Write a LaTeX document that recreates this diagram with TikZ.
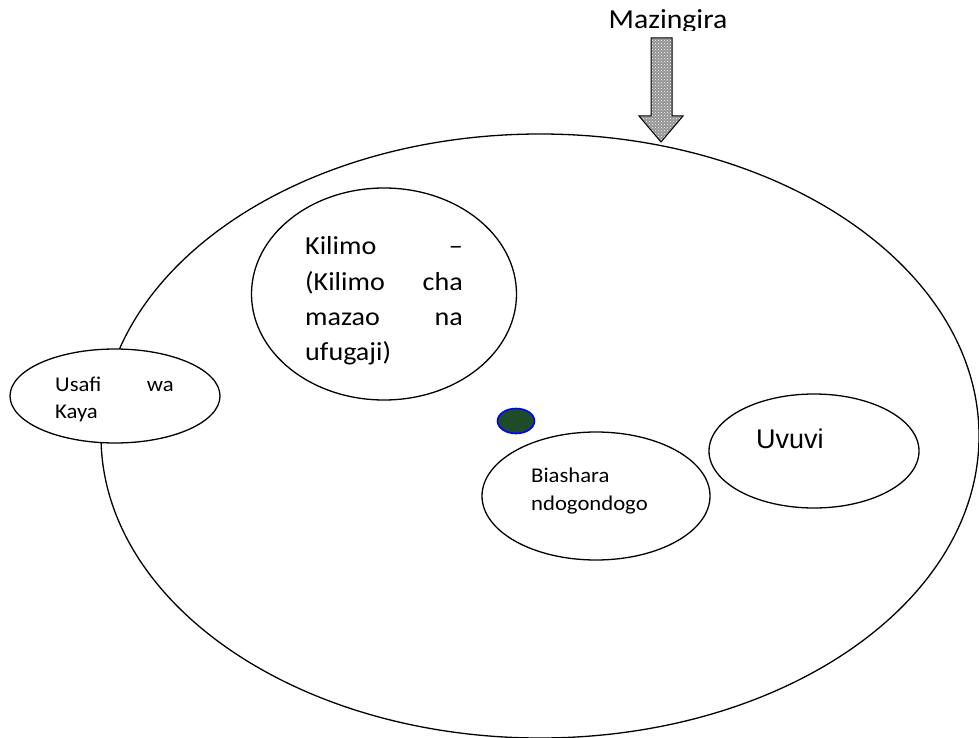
\documentclass[tikz,border=0pt]{standalone}
\usepackage{fontspec}
\setmainfont{Carlito}[FakeStretch=1.08]
\newfontfamily\arialf{Liberation Sans}
\usetikzlibrary{shapes.geometric,patterns}
\definecolor{dotgreen}{RGB}{30,75,40}
\begin{document}
\begin{tikzpicture}[x=1pt,y=-1pt,
  oval/.style={ellipse,draw=black,line width=1.3pt,fill=white,inner sep=0pt},
  lbl/.style={inner sep=0pt}]
\useasboundingbox (0,0) rectangle (979,738);
% big ellipse
\node[oval,minimum width=878pt,minimum height=604pt] (world) at (540,436) {};
% small ellipses
\node[oval,minimum width=265pt,minimum height=212pt] (kilimo) at (384,294) {};
\node[oval,minimum width=210pt,minimum height=94pt] (usafi) at (115,396) {};
\node[oval,minimum width=228pt,minimum height=128pt] (biashara) at (596,496) {};
\node[oval,minimum width=210pt,minimum height=114pt] (uvuvi) at (814,451) {};
\node[ellipse,draw=blue,line width=1.6pt,fill=dotgreen,minimum width=37pt,minimum height=25pt,inner sep=0pt] (dot) at (516,421) {};
% arrow
\coordinate (tip) at (661,142);
\path[fill=gray!85] (651,38) -- (672,38) -- (672,116) -- (683,116) -- (tip) -- (639,116) -- (651,116) -- cycle;
\path[pattern=crosshatch dots,pattern color=white] (651,38) -- (672,38) -- (672,116) -- (683,116) -- (tip) -- (639,116) -- (651,116) -- cycle;
\draw[line width=1pt,line join=miter] (651,38) -- (672,38) -- (672,116) -- (683,116) -- (tip) -- (639,116) -- (651,116) -- cycle;
% title, clipped like a text box
\begin{scope}
\clip (560,0) rectangle (780,31);
\node[lbl,anchor=base,font=\fontsize{27.5}{30}\selectfont] (maz) at (668,29) {Mazingira};
\end{scope}
% Kilimo text
\begin{scope}[every node/.style={lbl,font=\fontsize{26}{30}\selectfont}]
\node[anchor=base west] (k1) at (305,254) {Kilimo};
\node[anchor=base east] (k1r) at (463,254) {–};
\node[anchor=base west] (k2) at (305,290) {(Kilimo};
\node[anchor=base east] (k2r) at (463,290) {cha};
\node[anchor=base west] (k3) at (305,325) {mazao};
\node[anchor=base east] (k3r) at (463,325) {na};
\node[anchor=base west] (k4) at (305,360) {ufugaji)};
\end{scope}
% Usafi text
\begin{scope}[every node/.style={lbl,font=\fontsize{21}{24}\selectfont}]
\node[anchor=base west] (u1) at (55,391) {Usafi};
\node[anchor=base east] (u1r) at (174,391) {wa};
\node[anchor=base west] (u2) at (55,418) {Kaya};
\end{scope}
% Biashara text
\begin{scope}[every node/.style={lbl,font=\fontsize{21}{24}\selectfont}]
\node[anchor=base west] (b1) at (531,482) {Biashara};
\node[anchor=base west] (b2) at (531,510) {ndogondogo};
\end{scope}
% Uvuvi text
\node[lbl,anchor=base west,font=\arialf\fontsize{27}{30}\selectfont] (v1) at (756,448) {Uvuvi};
\end{tikzpicture}
\end{document}
